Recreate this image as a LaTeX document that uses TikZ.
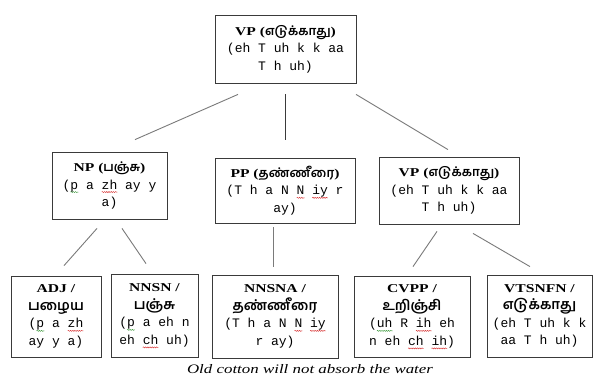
\documentclass[tikz,border=0pt]{standalone}
\usepackage{fontspec}
\usetikzlibrary{decorations.pathmorphing}
\setmainfont{Liberation Serif}
\newfontfamily\lblfont[FakeStretch=1.3]{Liberation Serif}
\newfontfamily\tamfont[Script=Tamil]{Hind Madurai}
\newfontfamily\romfont{Liberation Mono}
\newfontfamily\captfont[FakeStretch=1.3]{Liberation Serif}
\definecolor{boxc}{HTML}{3A3A3A}
\definecolor{linec}{HTML}{7A7A7A}
\definecolor{wg}{HTML}{3C9A3C}
\definecolor{wr}{HTML}{D83030}
\newsavebox\wvbox
\newdimen\wvw
\newcommand\wv[2]{\sbox\wvbox{#2}\wvw=\wd\wvbox\rlap{\tikz[baseline=0pt]{\useasboundingbox (0pt,0pt); \draw[#1,line width=0.45pt,decorate,decoration={snake,amplitude=0.55pt,segment length=2.2pt}] (0pt,-3pt) -- (\wvw,-3pt);}}\usebox\wvbox}
\newcommand\lab[3]{{\lblfont\bfseries\fontsize{12}{17}\selectfont #1{\tamfont\fontsize{12.5}{17}\selectfont #2}#3}}
\newcommand\tl[1]{{\tamfont\bfseries\fontsize{14}{18}\selectfont #1}}
\begin{document}
\begin{tikzpicture}[x=1pt,y=-1pt,
  box/.style={draw=boxc, line width=0.8pt, inner sep=0pt, align=center,
    font=\romfont\fontsize{13}{17.5}\selectfont},
  conn/.style={draw=linec, line width=0.9pt},
  connd/.style={draw=boxc, line width=0.9pt}]
\fill[white] (0,0) rectangle (593,383);
\useasboundingbox (0,0) rectangle (593,383);
\node[box, minimum width=141, minimum height=68] (top) at (285.5,49)
  {\lab{VP (}{எடுக்காது}{)}\\(eh T uh k k aa\\T h uh)};
\node[box, minimum width=115, minimum height=67] (np) at (109.5,185.5)
  {\lab{NP (}{பஞ்சு}{)}\\(\wv{wg}{p} a \wv{wr}{zh} ay y\\a)};
\node[box, minimum width=140, minimum height=65] (pp) at (285,190.5)
  {\lab{PP (}{தண்ணீரை}{)}\\(T h a N \wv{wr}{N} \wv{wr}{iy} r\\ay)};
\node[box, minimum width=140, minimum height=67] (vp) at (449,190.5)
  {\lab{VP (}{எடுக்காது}{)}\\(eh T uh k k aa\\T h uh)};
\node[box, minimum width=90, minimum height=81] (adj) at (56,316.5)
  {\lab{ADJ /}{}{}\\\tl{பழைய}\\(\wv{wg}{p} a \wv{wr}{zh}\\ay y a)};
\node[box, minimum width=87, minimum height=83] (nnsn) at (154.5,315.5)
  {\lab{NNSN /}{}{}\\\tl{பஞ்சு}\\(\wv{wg}{p} a eh n\\eh \wv{wr}{ch} uh)};
\node[box, minimum width=126, minimum height=83] (nnsna) at (275,316.5)
  {\lab{NNSNA /}{}{}\\\tl{தண்ணீரை}\\(T h a N \wv{wr}{N} \wv{wr}{iy}\\r ay)};
\node[box, minimum width=116, minimum height=81] (cvpp) at (412,316.5)
  {\lab{CVPP /}{}{}\\\tl{உறிஞ்சி}\\(\wv{wg}{uh} R \wv{wr}{ih} eh\\n eh \wv{wr}{ch} \wv{wr}{ih})};
\node[box, minimum width=105, minimum height=82] (vtsnfn) at (539.5,316)
  {\lab{VTSNFN /}{}{}\\\tl{எடுக்காது}\\(eh T uh k k\\aa T h uh)};
\node[font=\captfont\itshape\fontsize{13}{15}\selectfont, inner sep=0pt] (cap) at (310,369)
  {Old cotton will not absorb the water};
\draw[conn] ([xshift=-47.5pt,yshift=-11pt]top.south) -- ([xshift=25.5pt,yshift=12pt]np.north);
\draw[connd] ([xshift=-0.5pt,yshift=-11pt]top.south) -- ([yshift=18pt]pp.north);
\draw[conn] ([xshift=70.5pt,yshift=-11pt]top.south) -- ([xshift=-1pt,yshift=7pt]vp.north);
\draw[conn] ([xshift=-12.5pt,yshift=-9pt]np.south) -- ([xshift=8pt,yshift=10pt]adj.north);
\draw[conn] ([xshift=12.5pt,yshift=-9pt]np.south) -- ([xshift=-8.5pt,yshift=10pt]nnsn.north);
\draw[conn] ([xshift=-12pt,yshift=-4pt]pp.south) -- ([xshift=-2pt,yshift=8pt]nnsna.north);
\draw[conn] ([xshift=-12pt,yshift=-7pt]vp.south) -- ([xshift=1pt,yshift=9pt]cvpp.north);
\draw[conn] ([xshift=24pt,yshift=-9pt]vp.south) -- ([xshift=-9.5pt,yshift=8pt]vtsnfn.north);
\end{tikzpicture}
\end{document}
